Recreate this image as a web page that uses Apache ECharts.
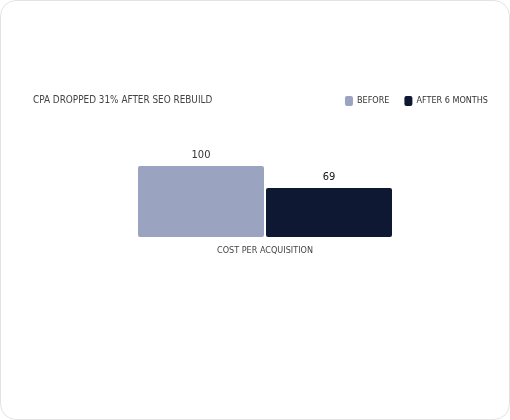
<!DOCTYPE html>
<html><head><meta charset="utf-8">
<script src="https://cdn.jsdelivr.net/npm/echarts@6/dist/echarts.min.js"></script>
<style>
html,body{margin:0;padding:0;background:#fff;}
#card{position:absolute;left:0;top:0;width:510px;height:420px;box-sizing:border-box;border:1px solid #e3e3e3;border-radius:16px;background:#fff;}
#chart{position:absolute;left:0;top:0;width:510px;height:420px;}
</style></head>
<body><div id="card"></div><div id="chart"></div>
<script>
const titleText = 'CPA DROPPED 31% AFTER SEO REBUILD';
const categories = ['COST PER ACQUISITION'];
const seriesNames = ['BEFORE', 'AFTER 6 MONTHS'];
const beforeValues = [100];
const afterValues = [69];
const colors = ['#9aa3bf', '#0f1833'];
const FONT = '"DejaVu Sans Condensed", "Open Sans", sans-serif';

const chart = echarts.init(document.getElementById('chart'), null, {renderer:'canvas'});
chart.setOption({
  animation:false,
  title:{text:titleText,left:33,top:95,padding:0,textStyle:{fontFamily:FONT,fontSize:9.9,fontWeight:'normal',color:'#444'}},
  legend:{right:22,top:96,padding:0,itemWidth:8,itemHeight:10,itemGap:15,icon:'roundRect',
    textStyle:{fontFamily:FONT,fontSize:9,color:'#333',padding:[0,0,0,-1]},
    data:seriesNames},
  grid:{left:138,right:118,top:166,bottom:183,containLabel:false},
  xAxis:{type:'category',data:categories,axisLine:{show:false},axisTick:{show:false},
    axisLabel:{fontFamily:FONT,fontSize:9,color:'#444',margin:9}},
  yAxis:{type:'value',min:0,max:100,show:false,splitLine:{show:false}},
  series:[
    {name:seriesNames[0],type:'bar',data:beforeValues,barWidth:126,barGap:'1.6%',barCategoryGap:0,
     itemStyle:{color:colors[0],borderRadius:2},
     label:{show:true,position:'top',distance:5,fontFamily:FONT,fontSize:11,color:'#333'}},
    {name:seriesNames[1],type:'bar',data:afterValues,barWidth:126,barGap:'1.6%',
     itemStyle:{color:colors[1],borderRadius:2},
     label:{show:true,position:'top',distance:5,fontFamily:FONT,fontSize:11,color:'#111'}}
  ]
});
</script></body></html>
